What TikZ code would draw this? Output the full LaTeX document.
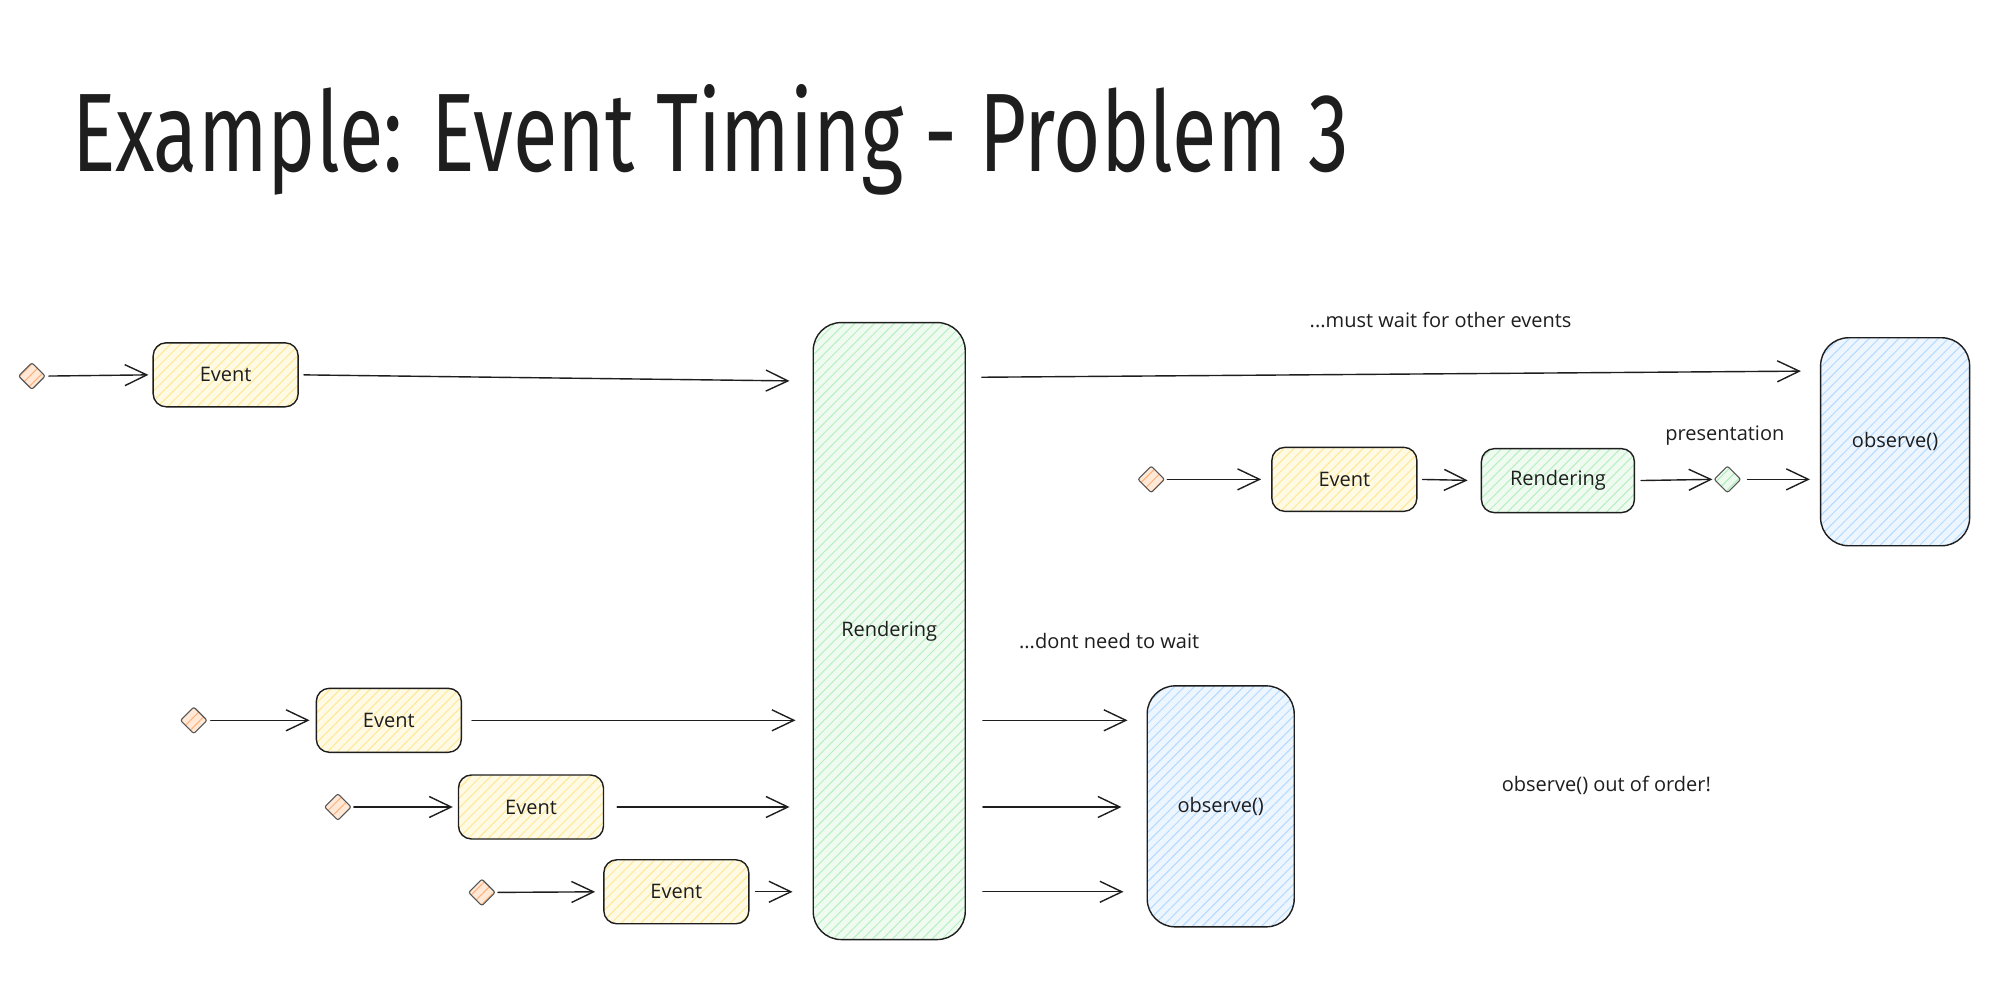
\documentclass[tikz,border=0pt]{standalone}
\usepackage{fontspec}
\setmainfont{Open Sans}
\newfontfamily\titlefont{Fira Sans}
\usetikzlibrary{arrows.meta,shapes.geometric,patterns.meta,calc}
\definecolor{ink}{HTML}{1E1E1E}
\definecolor{evfill}{HTML}{FFFAE3}
\definecolor{evhatch}{HTML}{FFE795}
\definecolor{rdfill}{HTML}{EFFBF1}
\definecolor{rdhatch}{HTML}{B6EFC0}
\definecolor{obfill}{HTML}{EDF6FF}
\definecolor{obhatch}{HTML}{B3DAFF}
\definecolor{orfill}{HTML}{FFE9D6}
\definecolor{orhatch}{HTML}{FFB07A}
\definecolor{grfill}{HTML}{ECFAEE}
\definecolor{grhatch}{HTML}{AEEBB8}
\begin{document}
\begin{tikzpicture}[x=1.27487pt,y=-1.27487pt,
  every node/.style={text=ink,font=\fontsize{20}{24}\selectfont},
  box/.style={draw=ink,line width=1.4pt,inner sep=0pt},
  hatch/.style 2 args={preaction={fill=#1},
     preaction={pattern={Lines[angle=45,distance=7pt,line width=1pt]},pattern color=#2}},
  evt/.style={box,rounded corners=13pt,hatch={evfill}{evhatch},
     minimum width=145pt,minimum height=64pt},
  rendbox/.style={box,rounded corners=13pt,hatch={rdfill}{rdhatch},
     minimum width=153pt,minimum height=64pt},
  tallrend/.style={box,rounded corners=28pt,hatch={rdfill}{rdhatch},
     minimum width=152pt,minimum height=617pt},
  obs/.style={box,rounded corners=28pt,hatch={obfill}{obhatch}},
  orgdia/.style={box,diamond,line width=1.1pt,draw=ink!75,rounded corners=2pt,
     minimum width=27pt,minimum height=27pt,hatch={orfill}{orhatch}},
  grndia/.style={box,diamond,line width=1.1pt,draw=ink!75,rounded corners=2pt,
     minimum width=27pt,minimum height=27pt,hatch={grfill}{grhatch}},
  lbl/.style={inner sep=0pt},
  arr/.style={draw=ink,line width=1.4pt,line cap=round,
     -{Straight Barb[length=22pt,width=21pt,line width=1.4pt]}},
]
\path[use as bounding box,fill=white] (0,0) rectangle (1568,776.55);

% title
\node[anchor=base west,inner sep=0pt] (title) at (56.5,134.9)
  {\resizebox{1276pt}{87pt}{\titlefont Example: Event Timing - Problem 3}};

% top row
\node[orgdia] (d1) at (25,295) {};
\node[evt] (e1) at (177,294) {Event};
\node[tallrend] (R) at (697.5,495) {Rendering};
\node[obs,minimum width=149pt,minimum height=208pt] (oT) at (1486.5,346.5) {observe()};
\node[lbl] (must) at (1130,251) {...must wait for other events};

% second row
\node[orgdia] (d2) at (903,376) {};
\node[evt] (e2) at (1054.5,376) {Event};
\node[rendbox] (r2) at (1222,377) {Rendering};
\node[grndia] (d3) at (1355,376) {};
\node[lbl] (pres) at (1353,342) {presentation};

% bottom rows
\node[orgdia] (d4) at (152,565) {};
\node[evt] (e3) at (305,565) {Event};
\node[orgdia] (d5) at (265,633) {};
\node[evt] (e4) at (416.5,633) {Event};
\node[orgdia] (d6) at (378,700) {};
\node[evt] (e5) at (530.5,699.5) {Event};
\node[obs,minimum width=147pt,minimum height=241pt] (oB) at (957.5,632.5) {observe()};
\node[lbl] (dont) at (870,503) {...dont need to wait};
\node[lbl] (ooo) at (1260,616) {observe() out of order!};

% connectors, top
\draw[arr,shorten <=3pt,shorten >=4pt] (d1.east) -- (e1.west);
\draw[arr,shorten <=5pt,shorten >=23pt] (e1.east) -- ($(R.west |- e1)+(0,5)$);
\draw[arr,shorten <=16pt,shorten >=19pt] ($(R.east |- e1)+(0,2)$) -- ($(oT.west |- e1)+(0,-3)$);

% connectors, second row
\draw[arr,shorten <=2pt,shorten >=10pt] (d2.east) -- (e2.west);
\draw[arr,shorten <=5pt,shorten >=13pt] (e2.east) -- (r2.west);
\draw[arr,shorten <=6pt,shorten >=1pt] (r2.east) -- (d3.west);
\draw[arr,shorten <=6pt,shorten >=10pt] (d3.east) -- (oT.west |- d3);

% connectors, bottom
\draw[arr,shorten <=3pt,shorten >=6pt] (d4.east) -- (e3.west);
\draw[arr,shorten <=10pt,shorten >=17pt] (e3.east) -- (R.west |- e3);
\draw[arr,shorten <=2pt,shorten >=5pt] (d5.east) -- (e4.west);
\draw[arr,shorten <=13pt,shorten >=23pt] (e4.east) -- (R.west |- e4);
\draw[arr,shorten <=2pt,shorten >=8pt] (d6.east) -- (e5.west);
\draw[arr,shorten <=6pt,shorten >=20pt] (e5.east) -- (R.west |- e5);

\draw[arr,shorten <=17pt,shorten >=19pt] (R.east |- e3) -- (oB.west |- e3);
\draw[arr,shorten <=17pt,shorten >=25pt] (R.east |- e4) -- (oB.west |- e4);
\draw[arr,shorten <=17pt,shorten >=23pt] (R.east |- e5) -- (oB.west |- e5);
\end{tikzpicture}
\end{document}
